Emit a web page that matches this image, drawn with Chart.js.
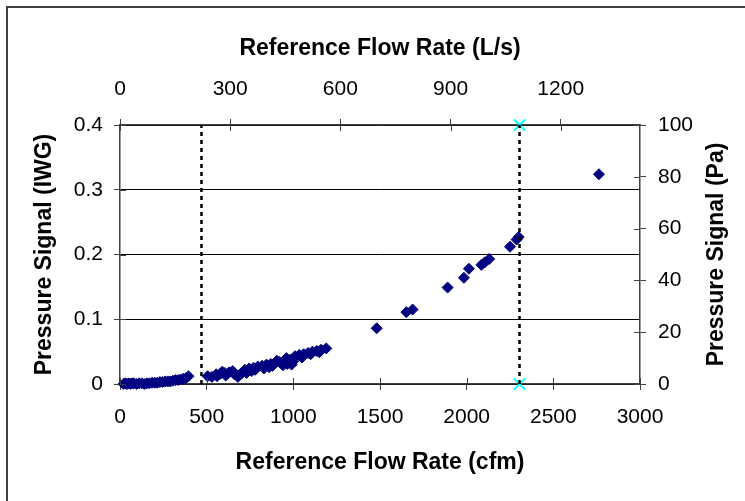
<!DOCTYPE html>
<html>
<head>
<meta charset="utf-8">
<script src="https://cdn.jsdelivr.net/npm/chart.js@4.4.1/dist/chart.umd.min.js"></script>
<style>
  body { margin: 0; background: #fff; }
  canvas { display: block; }
</style>
</head>
<body>
<canvas id="flowChart" width="745" height="501"></canvas>
<script>
const flowCfm = [
  20, 30, 40, 50, 60, 70, 80, 95, 110, 125, 140, 155, 170, 185, 200, 215, 230, 245,
  260, 275, 290, 305, 320, 335, 350, 365, 380, 395,
  505, 530, 555, 560, 580, 590, 605, 610, 630, 650, 655, 660, 680, 690, 700, 720, 730,
  745, 760, 770, 780, 795, 820, 830, 845, 860, 870, 880, 895, 905, 920, 940, 945, 960,
  965, 985, 990, 1000, 1010, 1035, 1050, 1060, 1085, 1100, 1110, 1135, 1150, 1160, 1190,
  1481, 1652, 1688, 1890, 1984, 2013, 2085, 2105, 2130, 2250, 2288, 2300, 2763
];
const pressureIwg = [
  0, 0.001, 0, 0.001, 0, 0.001, 0.001, 0, 0.001, 0.001, 0, 0.001, 0.001, 0.002, 0.002, 0.002, 0.003, 0.003,
  0.004, 0.004, 0.004, 0.005, 0.006, 0.006, 0.007, 0.008, 0.009, 0.012,
  0.012, 0.011, 0.015, 0.012, 0.016, 0.019, 0.017, 0.013, 0.018, 0.020, 0.017, 0.015, 0.011, 0.014, 0.016, 0.022, 0.017,
  0.024, 0.020, 0.025, 0.022, 0.027, 0.028, 0.024, 0.030, 0.026, 0.031, 0.028, 0.033, 0.036, 0.034, 0.029, 0.036, 0.040,
  0.031, 0.038, 0.030, 0.035, 0.043, 0.045, 0.041, 0.046, 0.048, 0.046, 0.050, 0.051, 0.049, 0.053, 0.055,
  0.086, 0.111, 0.115, 0.149, 0.164, 0.178, 0.184, 0.188, 0.193, 0.212, 0.223, 0.227, 0.324
];

// vertical dotted limits and the cyan markers
const limitCfm = [470, 2305];
const markerCfm = [2305, 2305];
const markerIwg = [0.4, 0];

// axis ranges / ticks
const cfmRange = [0, 3000], cfmStep = 500;
const lpsTicks = [0, 300, 600, 900, 1200];
const iwgRange = [0, 0.4], iwgStep = 0.1;
const paRange = [0, 100], paStep = 20;
const CFM_TO_LPS = 0.4719474;

const axisColor = '#404040';
const tickLen = 6;

const points = flowCfm.map((x, i) => ({ x: x, y: pressureIwg[i] }));
const limitSets = limitCfm.map(x => ({
  data: [{ x: x, y: iwgRange[0] }, { x: x, y: iwgRange[1] }],
  showLine: true,
  borderColor: '#000',
  borderWidth: 2.5,
  borderDash: [4, 4],
  pointRadius: 0,
  clip: false
}));

// Excel style tick marks cross the axis; chart.js only draws the outside half
const crossTicks = {
  id: 'crossTicks',
  afterDraw(chart) {
    const ctx = chart.ctx, a = chart.chartArea;
    ctx.save();
    ctx.strokeStyle = axisColor;
    ctx.lineWidth = 1;
    ctx.beginPath();
    Object.values(chart.scales).forEach(s => {
      s.ticks.forEach(t => {
        const p = Math.round(s.getPixelForValue(t.value)) + 0.5;
        if (s.position === 'left') { ctx.moveTo(a.left, p); ctx.lineTo(a.left + tickLen, p); }
        if (s.position === 'right') { ctx.moveTo(a.right, p); ctx.lineTo(a.right - tickLen, p); }
        if (s.position === 'top') { ctx.moveTo(p, a.top); ctx.lineTo(p, a.top + tickLen); }
        if (s.position === 'bottom') { ctx.moveTo(p, a.bottom); ctx.lineTo(p, a.bottom - tickLen); }
      });
    });
    ctx.stroke();

    // right title reads bottom-to-top like the left one
    ctx.fillStyle = '#000';
    ctx.font = 'bold 23px "Liberation Sans", Arial, sans-serif';
    ctx.textAlign = 'center';
    ctx.textBaseline = 'middle';
    ctx.translate(717, (a.top + a.bottom) / 2);
    ctx.rotate(-Math.PI / 2);
    ctx.fillText('Pressure Signal (Pa)', 0, 0);
    ctx.restore();

    // outer frame (cropped on right / bottom)
    ctx.save();
    ctx.strokeStyle = axisColor;
    ctx.lineWidth = 2;
    ctx.strokeRect(7, 7, 900, 700);
    ctx.restore();
  }
};

Chart.defaults.font.family = '"Liberation Sans", Arial, sans-serif';
Chart.defaults.color = '#000';

const titleFont = { size: 23, weight: 'bold' };
const tickFont = { size: 21 };
const plain = v => String(v);

new Chart(document.getElementById('flowChart'), {
  type: 'scatter',
  data: {
    datasets: [
      ...limitSets,
      {
        label: 'Pressure Signal',
        data: points,
        pointStyle: 'rectRot',
        pointRadius: 5.5,
        pointBorderWidth: 1,
        backgroundColor: '#000080',
        borderColor: '#000080',
        clip: false
      },
      {
        label: 'Limit',
        data: markerCfm.map((x, i) => ({ x: x, y: markerIwg[i] })),
        pointStyle: 'crossRot',
        pointRadius: 8,
        pointBorderWidth: 2,
        borderColor: '#00ffff',
        backgroundColor: '#00ffff',
        clip: false
      }
    ]
  },
  options: {
    responsive: false,
    animation: false,
    layout: { padding: 0 },
    plugins: { legend: { display: false }, tooltip: { enabled: false } },
    scales: {
      x: {
        type: 'linear', position: 'bottom',
        min: cfmRange[0], max: cfmRange[1],
        afterFit: s => { s.height = 117; },
        border: { color: axisColor, width: 1.5 },
        grid: { drawOnChartArea: false, tickLength: tickLen, color: axisColor },
        ticks: { stepSize: cfmStep, font: tickFont, padding: 15, maxRotation: 0, callback: plain },
        title: { display: true, text: 'Reference Flow Rate (cfm)', font: titleFont, padding: { bottom: 25 } }
      },
      x2: {
        type: 'linear', position: 'top',
        min: cfmRange[0] * CFM_TO_LPS, max: cfmRange[1] * CFM_TO_LPS,
        afterFit: s => { s.height = 125; },
        afterBuildTicks: s => { s.ticks = lpsTicks.map(v => ({ value: v })); },
        border: { color: axisColor, width: 1.5 },
        grid: { drawOnChartArea: false, tickLength: tickLen, color: axisColor },
        ticks: { font: tickFont, padding: 17, maxRotation: 0, autoSkip: false, callback: plain },
        title: { display: true, text: 'Reference Flow Rate (L/s)', font: titleFont, padding: { top: 35 } }
      },
      y: {
        type: 'linear', position: 'left',
        min: iwgRange[0], max: iwgRange[1],
        afterFit: s => { s.width = 120; },
        border: { color: axisColor, width: 1.5 },
        grid: { color: '#000', tickColor: axisColor, tickLength: tickLen },
        ticks: { stepSize: iwgStep, font: tickFont, padding: 11 },
        title: { display: true, text: 'Pressure Signal (IWG)', font: titleFont, padding: { top: 31 } }
      },
      y2: {
        type: 'linear', position: 'right',
        min: paRange[0], max: paRange[1],
        afterFit: s => { s.width = 105; },
        border: { color: axisColor, width: 1.5 },
        grid: { drawOnChartArea: false, tickLength: tickLen, color: axisColor },
        ticks: { stepSize: paStep, font: tickFont, padding: 12 },
        title: { display: false }
      }
    }
  },
  plugins: [crossTicks]
});
</script>
</body>
</html>
